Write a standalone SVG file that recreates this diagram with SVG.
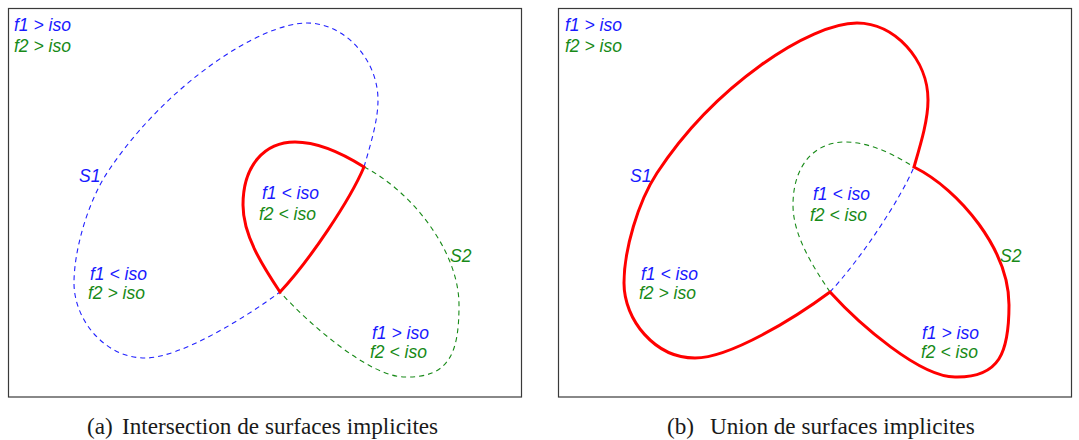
<svg xmlns="http://www.w3.org/2000/svg" width="1079" height="440" viewBox="0 0 1079 440">
<style>
.frame{fill:none;stroke:#3a3a3a;stroke-width:1.2}
.lbl{font-family:"Liberation Sans",Arial,sans-serif;font-style:italic;font-size:17.5px}
.b{fill:#1a1aff}
.g{fill:#188a18}
.db{fill:none;stroke:#2222ff;stroke-width:1.1;stroke-dasharray:5 4}
.dg{fill:none;stroke:#188a18;stroke-width:1.1;stroke-dasharray:5 4}
.red{fill:none;stroke:#ff0000;stroke-width:3;stroke-linejoin:miter;stroke-miterlimit:10}
.cap{font-family:"Liberation Serif","Times New Roman",serif;font-size:23.2px;fill:#1a1a1a}
</style>
<rect width="1079" height="440" fill="#ffffff"/>

<g id="panel-a">
  <rect class="frame" x="8.5" y="8.5" width="513" height="388.5"/>
  <g id="a-curves">
    <path id="a-s1-outer" class="db" d="M364,167 C371,143 378,120 378,100 C378,60 345,23 307,23 C260,23 165,85 107,173 C88,202 74,250 74,283 C74,320 105,358 145,358 C180,358 245,318 280,292"/>
    <path id="a-s2-outer" class="dg" d="M364,167 C410,190 459,250 459,305 C459,352 450,378 405,377 C370,377 310,325 280,292"/>
    <path id="a-lens" class="red" d="M280,292 C310,260 350,200 364,167 C345,155 320,142 295,142 C265,142 243,165 243,205 C243,235 262,265 280,292 Z"/>
  </g>
  <g id="a-labels" class="lbl">
    <text class="b" x="14" y="31">f1 &gt; iso</text>
    <text class="g" x="14" y="52">f2 &gt; iso</text>
    <text class="b" x="79" y="182">S1</text>
    <text class="g" x="450" y="262">S2</text>
    <text class="b" x="262" y="199">f1 &lt; iso</text>
    <text class="g" x="259" y="220">f2 &lt; iso</text>
    <text class="b" x="90" y="280">f1 &lt; iso</text>
    <text class="g" x="88" y="299">f2 &gt; iso</text>
    <text class="b" x="372" y="339">f1 &gt; iso</text>
    <text class="g" x="370" y="358">f2 &lt; iso</text>
  </g>
  <g id="a-caption" class="cap">
    <text x="87" y="434">(a)</text>
    <text x="122" y="434">Intersection de surfaces implicites</text>
  </g>
</g>

<g id="panel-b">
  <rect class="frame" x="558.5" y="8.5" width="513" height="388.5"/>
  <g id="b-curves" transform="translate(550,0)">
    <path id="b-s1-inner" class="db" d="M280,292 C310,260 350,200 364,167"/>
    <path id="b-s2-inner" class="dg" d="M280,292 C262,265 243,235 243,205 C243,165 265,142 295,142 C320,142 345,155 364,167"/>
    <path id="b-union" class="red" d="M364,167 C371,143 378,120 378,100 C378,60 345,23 307,23 C260,23 165,85 107,173 C88,202 74,250 74,283 C74,320 105,358 145,358 C180,358 245,318 280,292 C310,325 370,377 405,377 C450,378 459,352 459,305 C459,250 410,190 364,167 Z"/>
  </g>
  <g id="b-labels" class="lbl">
    <text class="b" x="565" y="31">f1 &gt; iso</text>
    <text class="g" x="565" y="52">f2 &gt; iso</text>
    <text class="b" x="630" y="182">S1</text>
    <text class="g" x="1000" y="262">S2</text>
    <text class="b" x="813" y="200">f1 &lt; iso</text>
    <text class="g" x="810" y="221">f2 &lt; iso</text>
    <text class="b" x="641" y="280">f1 &lt; iso</text>
    <text class="g" x="639" y="299">f2 &gt; iso</text>
    <text class="b" x="922" y="339">f1 &gt; iso</text>
    <text class="g" x="921" y="358">f2 &lt; iso</text>
  </g>
  <g id="b-caption" class="cap">
    <text x="667" y="434">(b)</text>
    <text x="710" y="434">Union de surfaces implicites</text>
  </g>
</g>
</svg>
